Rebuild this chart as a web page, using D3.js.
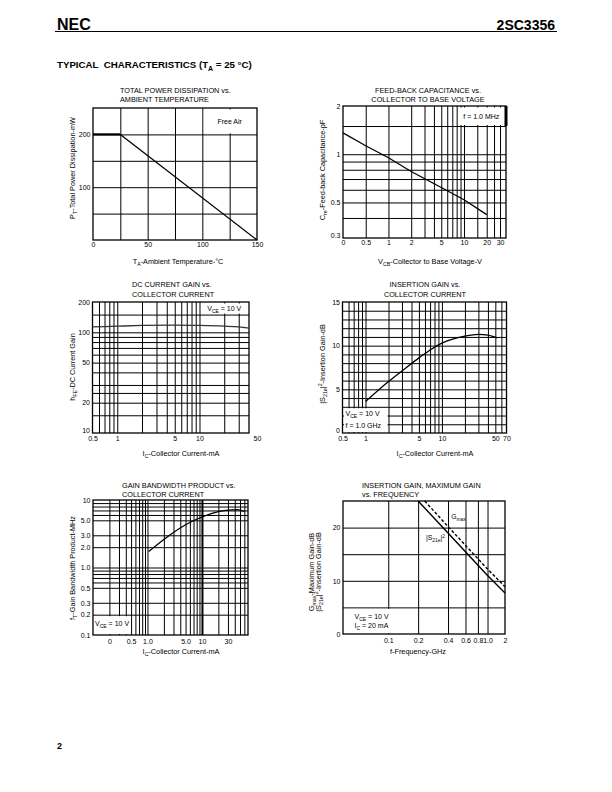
<!DOCTYPE html>
<html><head><meta charset="utf-8">
<script src="https://cdn.jsdelivr.net/npm/d3@7"></script>
<style>
body{margin:0;background:#fff}
svg{display:block}
text{font-family:"Liberation Sans",Arial,Helvetica,sans-serif;fill:#000}
</style>
</head><body>
<svg id="c" width="612" height="792"></svg>
<script>
// ================= DATA =================
// 1. Total power dissipation vs ambient temperature
const pdTemp = [0, 25, 150];
const pdPower = [200, 200, 0];
const pdXTicks = [0, 50, 100, 150];
const pdYTicks = [100, 200];
const pdXGrid = [25, 50, 75, 100, 125];
const pdYGrid = [50, 100, 150, 200];

// 2. Feed-back capacitance vs collector to base voltage
const cbVcb = [0.25, 0.5, 1, 2, 5, 10, 20];
const cbCre = [1.36, 1.13, 0.95, 0.78, 0.62, 0.52, 0.42];
const cbXTicks = [0.25, 0.5, 1, 2, 5, 10, 20, 30];
const cbXLabels = ["0", "0.5", "1", "2", "5", "10", "20", "30"];
const cbYTicks = [0.3, 0.5, 1, 2];
const cbYLabels = ["0.3", "0.5", "1", "2"];
const cbXGrid = [0.5, 1, 2, 3, 4, 5, 6, 7, 8, 9, 10, 15, 20, 25, 30];
const cbYGrid = [0.4, 0.5, 0.6, 0.7, 0.8, 0.9, 1, 1.5];

// 3. DC current gain vs collector current
const hfIc = [0.5, 1, 2, 5, 10, 20, 30, 40];
const hfHfe = [113, 115, 117, 118, 117, 115, 113, 110];
const hfXTicks = [0.5, 1, 5, 10, 50];
const hfXLabels = ["0.5", "1", "5", "10", "50"];
const hfYTicks = [10, 20, 50, 100, 200];
const hfXGrid = [0.6, 0.7, 0.8, 0.9, 1, 2, 3, 4, 5, 6, 7, 8, 9, 10, 20, 30];
const hfYGrid = [15, 20, 25, 30, 40, 50, 60, 70, 80, 90, 100, 150];

// 4. Insertion gain vs collector current
const igIc = [1, 2, 3, 5, 7, 10, 20, 30, 40, 53];
const igGain = [3.6, 5.9, 7.1, 8.6, 9.5, 10.3, 11.1, 11.3, 11.2, 10.9];
const igXTicks = [0.5, 1, 5, 10, 50, 70];
const igXLabels = ["0.5", "1", "5", "10", "50", "70"];
const igYTicks = [0, 5, 10, 15];
const igXGrid = [0.6, 0.7, 0.8, 0.9, 1, 2, 3, 4, 5, 6, 7, 8, 9, 10, 20, 30, 40, 50, 60];
const igYGrid = [1, 2, 3, 4, 5, 6, 7, 8, 9, 10, 11, 12, 13, 14];

// 5. Gain bandwidth product vs collector current
const ftIc = [1.05, 2, 3, 5, 10, 20, 30, 45, 60];
const ftGhz = [1.72, 2.6, 3.3, 4.3, 5.6, 6.7, 7.1, 7.2, 6.8];
const ftXTicks = [0.2, 0.5, 1, 5, 10, 30];
const ftXLabels = ["0", "0.5", "1.0", "5.0", "10", "30"];
const ftYTicks = [0.1, 0.2, 0.3, 0.5, 1, 2, 3, 5, 10];
const ftYLabels = ["0.1", "0.2", "0.3", "0.5", "1.0", "2.0", "3.0", "5.0", "10"];
const ftXGrid = [0.2, 0.3, 0.4, 0.5, 0.6, 0.7, 0.8, 0.9, 1, 2, 3, 4, 5, 6, 7, 8, 9, 10, 20, 30, 40, 50, 60];
const ftYGrid = [0.2, 0.3, 0.5, 0.6, 0.7, 0.8, 0.9, 1, 2, 3, 5, 6, 7, 8, 9];

// 6. Insertion gain, maximum gain vs frequency
const fqS21 = [0.2, 0.4, 1.0, 1.5];
const s21Gain = [25, 19.0, 11.0, 7.7];
const fqGmax = [0.233, 0.4, 1.0, 1.5];
const gmaxGain = [25, 20.2, 12.2, 8.9];
const fqXTicks = [0.1, 0.2, 0.4, 0.6, 0.8, 1.0, 1.5];
const fqXLabels = ["0.1", "0.2", "0.4", "0.6", "0.8", "1.0", "2"];
const fqYTicks = [0, 10, 20];
const fqXGrid = [0.1, 0.2, 0.4, 0.6, 0.8, 1.0];
const fqYGrid = [5, 10, 15, 20];

// ================= DRAWING =================
const svg = d3.select("#c");
const FS = 7;

function rich(sel, parts, size) {
  let cur = 0;
  parts.forEach(p => {
    const target = p.sub ? size * 0.3 : p.sup ? -size * 0.4 : 0;
    const ts = sel.append("tspan").attr("dy", (target - cur).toFixed(2)).text(p.t);
    if (p.sub || p.sup) ts.attr("font-size", (size * 0.72).toFixed(2));
    cur = target;
  });
}

function txt(x, y, parts, opt = {}) {
  const size = opt.size || FS;
  const t = svg.append("text").attr("x", x).attr("y", y)
    .attr("font-size", size)
    .attr("text-anchor", opt.anchor || "start");
  if (opt.weight) t.attr("font-weight", opt.weight);
  if (opt.rotate) t.attr("transform", `rotate(-90,${x},${y})`);
  if (opt.pre) t.style("white-space", "pre");
  if (typeof parts === "string") t.text(parts); else rich(t, parts, size);
  return t;
}

function makePlot(o) {
  const g = svg.append("g");
  const x = (o.xLog ? d3.scaleLog() : d3.scaleLinear()).domain(o.xDomain).range([o.left, o.right]);
  const y = (o.yLog ? d3.scaleLog() : d3.scaleLinear()).domain(o.yDomain).range([o.bottom, o.top]);
  const h = o.bottom - o.top, w = o.right - o.left;
  // grid via axes
  g.append("g").attr("transform", `translate(0,${o.bottom})`)
    .call(d3.axisBottom(x).tickValues(o.xGrid).tickSize(-h).tickFormat(""))
    .call(a => a.select(".domain").remove())
    .selectAll("line").attr("stroke", "#000").attr("stroke-width", d => (o.thickX && o.thickX.includes(d)) ? 2 : 1);
  g.append("g").attr("transform", `translate(${o.left},0)`)
    .call(d3.axisLeft(y).tickValues(o.yGrid).tickSize(-w).tickFormat(""))
    .call(a => a.select(".domain").remove())
    .selectAll("line").attr("stroke", "#000").attr("stroke-width", 1);
  // cover boxes (note areas)
  (o.covers || []).forEach(c => {
    const x0 = c.x0 === "L" ? o.left : x(c.x0), x1 = c.x1 === "R" ? o.right : x(c.x1);
    const y0 = c.y0 === "T" ? o.top : y(c.y0), y1 = c.y1 === "B" ? o.bottom : y(c.y1);
    g.append("rect").attr("x", Math.min(x0, x1) + 1.5).attr("y", Math.min(y0, y1) + 1.5)
      .attr("width", Math.abs(x1 - x0) - 2.5).attr("height", Math.abs(y1 - y0) - 2.5)
      .attr("fill", "#fff");
  });
  // frame
  g.append("rect").attr("x", o.left).attr("y", o.top).attr("width", w).attr("height", h)
    .attr("fill", "none").attr("stroke", "#000").attr("stroke-width", 1.3);
  // tick labels
  const xa = g.append("g").attr("transform", `translate(0,${o.bottom})`)
    .call(d3.axisBottom(x).tickValues(o.xTicks).tickSize(0).tickPadding(o.xPad || 2.5)
      .tickFormat((d, i) => o.xLabels ? o.xLabels[i] : String(d)));
  xa.select(".domain").remove();
  xa.selectAll("text").attr("font-size", FS).attr("font-family", null);
  const ya = g.append("g").attr("transform", `translate(${o.left},0)`)
    .call(d3.axisLeft(y).tickValues(o.yTicks).tickSize(0).tickPadding(o.yPad || 2.5)
      .tickFormat((d, i) => o.yLabels ? o.yLabels[i] : String(d)));
  ya.select(".domain").remove();
  ya.selectAll("text").attr("font-size", FS).attr("font-family", null)
    .attr("dy", (d, i) => (i === 0 && o.liftFirstY) ? "-0.1em" : "0.32em");
  return { g, x, y };
}

function curve(p, xs, ys, opt = {}) {
  const pts = xs.map((d, i) => [d, ys[i]]);
  const line = d3.line().x(d => p.x(d[0])).y(d => p.y(d[1]))
    .curve(opt.smooth ? d3.curveMonotoneX : d3.curveLinear);
  p.g.append("path").attr("d", line(pts)).attr("fill", "none")
    .attr("stroke", opt.color || "#000").attr("stroke-width", opt.width || 1.3)
    .attr("stroke-dasharray", opt.dash || null);
}

// ---- header ----
txt(57, 29.5, "NEC", { size: 16, weight: "900" });
txt(555, 29.5, "2SC3356", { size: 14, weight: "bold", anchor: "end" });
svg.append("line").attr("x1", 55).attr("x2", 557).attr("y1", 31.5).attr("y2", 31.5)
  .attr("stroke", "#000").attr("stroke-width", 1.2);
txt(57, 68, [{ t: "TYPICAL  CHARACTERISTICS (T" }, { t: "A", sub: true }, { t: " = 25 °C)" }], { size: 9.7, weight: "bold", pre: true });
txt(57, 749, "2", { size: 9, weight: "bold" });

// ---- chart 1 ----
{
  const p = makePlot({ left: 93, right: 257, top: 108, bottom: 240,
    xDomain: [0, 150], yDomain: [0, 250],
    xGrid: pdXGrid, yGrid: pdYGrid, xTicks: pdXTicks, yTicks: pdYTicks, xPad: 2,
    covers: [{ x0: 100, x1: "R", y0: "T", y1: 200 }] });
  curve(p, pdTemp.slice(0, 2), pdPower.slice(0, 2), { width: 2.2 });
  curve(p, pdTemp.slice(1), pdPower.slice(1), { width: 1.3 });
  txt(p.x(125), (p.y(250) + p.y(200)) / 2 + 2.5, "Free Air", { anchor: "middle" });
  txt(120, 92.5, "TOTAL POWER DISSIPATION vs.", { size: 7.3 });
  txt(120, 101.5, "AMBIENT TEMPERATURE", { size: 7.3 });
  txt(74.5, 168, [{ t: "P" }, { t: "T", sub: true }, { t: "-Total Power Dissipation-mW" }], { size: 7.3, rotate: true, anchor: "middle" });
  txt(178, 264, [{ t: "T" }, { t: "A", sub: true }, { t: "-Ambient Temperature-°C" }], { size: 7.3, anchor: "middle" });
}

// ---- chart 2 ----
{
  const p = makePlot({ left: 343, right: 506, top: 106, bottom: 238,
    xLog: true, yLog: true, xDomain: [0.25, 36], yDomain: [0.3, 2],
    xGrid: cbXGrid, yGrid: cbYGrid, xTicks: cbXTicks, xLabels: cbXLabels,
    yTicks: cbYTicks, yLabels: cbYLabels, liftFirstY: true,
    covers: [{ x0: 8, x1: "R", y0: "T", y1: 1.5 }] });
  p.g.append("line").attr("x1", 506).attr("x2", 506).attr("y1", p.y(2)).attr("y2", p.y(1.5))
    .attr("stroke", "#000").attr("stroke-width", 3);
  curve(p, cbVcb, cbCre);
  txt((p.x(8) + 506) / 2, (p.y(2) + p.y(1.5)) / 2 + 2.5, "f = 1.0 MHz", { anchor: "middle" });
  txt(428, 92.5, "FEED-BACK CAPACITANCE vs.", { size: 7.3, anchor: "middle" });
  txt(428, 101.5, "COLLECTOR TO BASE VOLTAGE", { size: 7.3, anchor: "middle" });
  txt(324.5, 170, [{ t: "C" }, { t: "re", sub: true }, { t: "-Feed-back Capacitance-pF" }], { size: 7.3, rotate: true, anchor: "middle" });
  txt(430, 264, [{ t: "V" }, { t: "CB", sub: true }, { t: "-Collector to Base Voltage-V" }], { size: 7.3, anchor: "middle" });
}

// ---- chart 3 ----
{
  const p = makePlot({ left: 92.5, right: 249, top: 302, bottom: 433,
    xLog: true, yLog: true, xDomain: [0.5, 40], yDomain: [10, 200],
    xGrid: hfXGrid, yGrid: hfYGrid, xTicks: hfXTicks, xLabels: hfXLabels, yTicks: hfYTicks,
    liftFirstY: true, xPad: 3,
    covers: [{ x0: 10, x1: "R", y0: "T", y1: 150 }] });
  curve(p, hfIc, hfHfe, { smooth: true, color: "#333" });
  txt((p.x(10) + 249) / 2, (p.y(200) + p.y(150)) / 2 + 2.5, [{ t: "V" }, { t: "CE", sub: true }, { t: " = 10 V" }], { anchor: "middle" });
  txt(132, 287, "DC CURRENT GAIN vs.", { size: 7.3 });
  txt(132, 296.5, "COLLECTOR CURRENT", { size: 7.3 });
  txt(74.5, 367, [{ t: "h" }, { t: "FE", sub: true }, { t: "-DC Current Gain" }], { size: 7.3, rotate: true, anchor: "middle" });
  txt(181, 456, [{ t: "I" }, { t: "C", sub: true }, { t: "-Collector Current-mA" }], { size: 7.3, anchor: "middle" });
}

// ---- chart 4 ----
{
  const p = makePlot({ left: 342.5, right: 506.5, top: 302, bottom: 433,
    xLog: true, xDomain: [0.5, 70], yDomain: [0, 15],
    xGrid: igXGrid, yGrid: igYGrid, xTicks: igXTicks, xLabels: igXLabels, yTicks: igYTicks,
    liftFirstY: true, xPad: 3,
    covers: [{ x0: "L", x1: 2, y0: 3, y1: "B" }] });
  curve(p, igIc, igGain, { smooth: true });
  txt(345.5, 416, [{ t: "V" }, { t: "CE", sub: true }, { t: " = 10 V" }]);
  txt(345.5, 427.5, "f = 1.0 GHz");
  txt(425, 287, "INSERTION GAIN vs.", { size: 7.3, anchor: "middle" });
  txt(425, 296.5, "COLLECTOR CURRENT", { size: 7.3, anchor: "middle" });
  txt(324.5, 364, [{ t: "|S" }, { t: "21e", sub: true }, { t: "|" }, { t: "2", sup: true }, { t: "-Insertion Gain-dB" }], { size: 7.3, rotate: true, anchor: "middle" });
  txt(435, 456, [{ t: "I" }, { t: "C", sub: true }, { t: "-Collector Current-mA" }], { size: 7.3, anchor: "middle" });
}

// ---- chart 5 ----
{
  const p = makePlot({ left: 93, right: 248, top: 500, bottom: 635,
    xLog: true, yLog: true, xDomain: [0.1, 70], yDomain: [0.1, 10],
    xGrid: ftXGrid, yGrid: ftYGrid, xTicks: ftXTicks, xLabels: ftXLabels,
    yTicks: ftYTicks, yLabels: ftYLabels, thickX: [10], xPad: 4,
    covers: [{ x0: "L", x1: 0.5, y0: 0.2, y1: "B" }] });
  curve(p, ftIc, ftGhz, { smooth: true });
  txt(95, 626, [{ t: "V" }, { t: "CE", sub: true }, { t: " = 10 V" }]);
  txt(122, 487.5, "GAIN BANDWIDTH PRODUCT vs.", { size: 7.3 });
  txt(122, 496.5, "COLLECTOR CURRENT", { size: 7.3 });
  txt(74.5, 568, [{ t: "f" }, { t: "T", sub: true }, { t: "-Gain Bandwidth Product-MHz" }], { size: 7.3, rotate: true, anchor: "middle" });
  txt(181, 654, [{ t: "I" }, { t: "C", sub: true }, { t: "-Collector Current-mA" }], { size: 7.3, anchor: "middle" });
}

// ---- chart 6 ----
{
  const p = makePlot({ left: 343, right: 505, top: 501, bottom: 634,
    xLog: true, xDomain: [0.035, 1.5], yDomain: [0, 25],
    xGrid: fqXGrid, yGrid: fqYGrid, xTicks: fqXTicks, xLabels: fqXLabels, yTicks: fqYTicks, xPad: 4,
    covers: [{ x0: "L", x1: 0.2, y0: 5, y1: "B" }] });
  curve(p, fqS21, s21Gain, { width: 1.4 });
  curve(p, fqGmax, gmaxGain, { width: 1.4, dash: "3,2" });
  txt(p.x(0.43), p.y(21.6), [{ t: "G" }, { t: "max", sub: true }], { size: 6.8 });
  txt(p.x(0.24), p.y(17.6), [{ t: "|S" }, { t: "21e", sub: true }, { t: "|" }, { t: "2", sup: true }], { size: 6.8 });
  txt(354.5, 619, [{ t: "V" }, { t: "CE", sub: true }, { t: " = 10 V" }]);
  txt(354.5, 628, [{ t: "I" }, { t: "C", sub: true }, { t: " = 20 mA" }]);
  txt(362, 487.5, "INSERTION GAIN, MAXIMUM GAIN", { size: 7.3 });
  txt(362, 496.5, "vs. FREQUENCY", { size: 7.3 });
  txt(314, 572, [{ t: "G" }, { t: "max", sub: true }, { t: "-Maximum Gain-dB" }], { size: 7.3, rotate: true, anchor: "middle" });
  txt(321, 572, [{ t: "|S" }, { t: "21e", sub: true }, { t: "|" }, { t: "2", sup: true }, { t: "-Insertion Gain-dB" }], { size: 7.3, rotate: true, anchor: "middle" });
  txt(418, 654, "f-Frequency-GHz", { size: 7.3, anchor: "middle" });
}
</script>
</body></html>
